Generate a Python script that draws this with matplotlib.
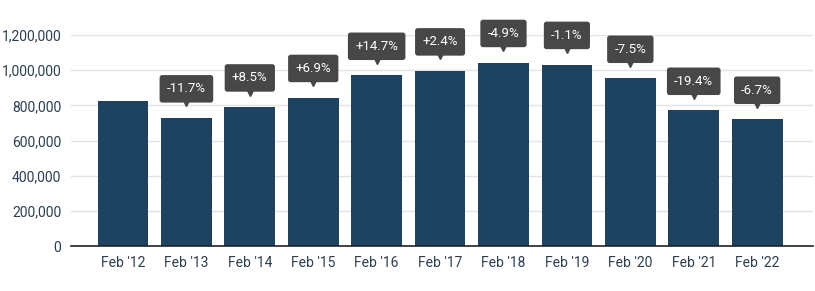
import matplotlib.pyplot as plt
from matplotlib.transforms import offset_copy
from matplotlib.ticker import FuncFormatter

# Data
months = ["Feb '12", "Feb '13", "Feb '14", "Feb '15", "Feb '16", "Feb '17",
          "Feb '18", "Feb '19", "Feb '20", "Feb '21", "Feb '22"]
values = [824000, 728000, 790000, 844000, 970000, 995000,
          1043000, 1032000, 953000, 771000, 720000]
changes = [None, "-11.7%", "+8.5%", "+6.9%", "+14.7%", "+2.4%",
           "-4.9%", "-1.1%", "-7.5%", "-19.4%", "-6.7%"]

bar_color = "#1e4360"
label_color = "#2c3e50"
box_color = "#474747"

plt.rcParams["font.family"] = ["Roboto", "DejaVu Sans"]

fig = plt.figure(figsize=(8.15, 2.91), dpi=100)
ax = fig.add_axes([0.0871, 0.1546, 0.9104, 0.7251])

x = list(range(len(months)))
ax.bar(x, values, width=0.8, color=bar_color, zorder=2)

# callout boxes with a small pointer below
tri_tf = offset_copy(ax.transData, fig=fig, y=10.5, units="points")
for xi, v, c in zip(x, values, changes):
    if c is None:
        continue
    ax.annotate(c, xy=(xi, v), xytext=(0, 21), textcoords="offset points",
                ha="center", va="center", color="white", fontsize=9.5,
                bbox=dict(boxstyle="round,pad=0.55,rounding_size=0.2",
                          fc=box_color, ec="none"),
                annotation_clip=False, zorder=4)
    ax.plot(xi, v, marker="v", markersize=5, color=box_color,
            transform=tri_tf, clip_on=False, zorder=3)

ax.set_xlim(-0.82, 10.88)
ax.set_ylim(0, 1200000)
ax.set_yticks(range(0, 1200001, 200000))
ax.yaxis.set_major_formatter(FuncFormatter(lambda v, p: f"{int(v):,}"))
ax.set_xticks(x)
ax.set_xticklabels(months)

ax.grid(axis="y", color="#e3e3e3", linewidth=1, zorder=0)
ax.set_axisbelow(True)
for s in ["top", "right", "left"]:
    ax.spines[s].set_visible(False)
ax.spines["bottom"].set_color("#222222")
ax.spines["bottom"].set_linewidth(1.2)
ax.spines["bottom"].set_zorder(3)

ax.tick_params(axis="both", length=0, labelsize=10, labelcolor=label_color)
ax.tick_params(axis="y", pad=7)
ax.tick_params(axis="x", pad=7)

plt.savefig("out.png", dpi=100)
